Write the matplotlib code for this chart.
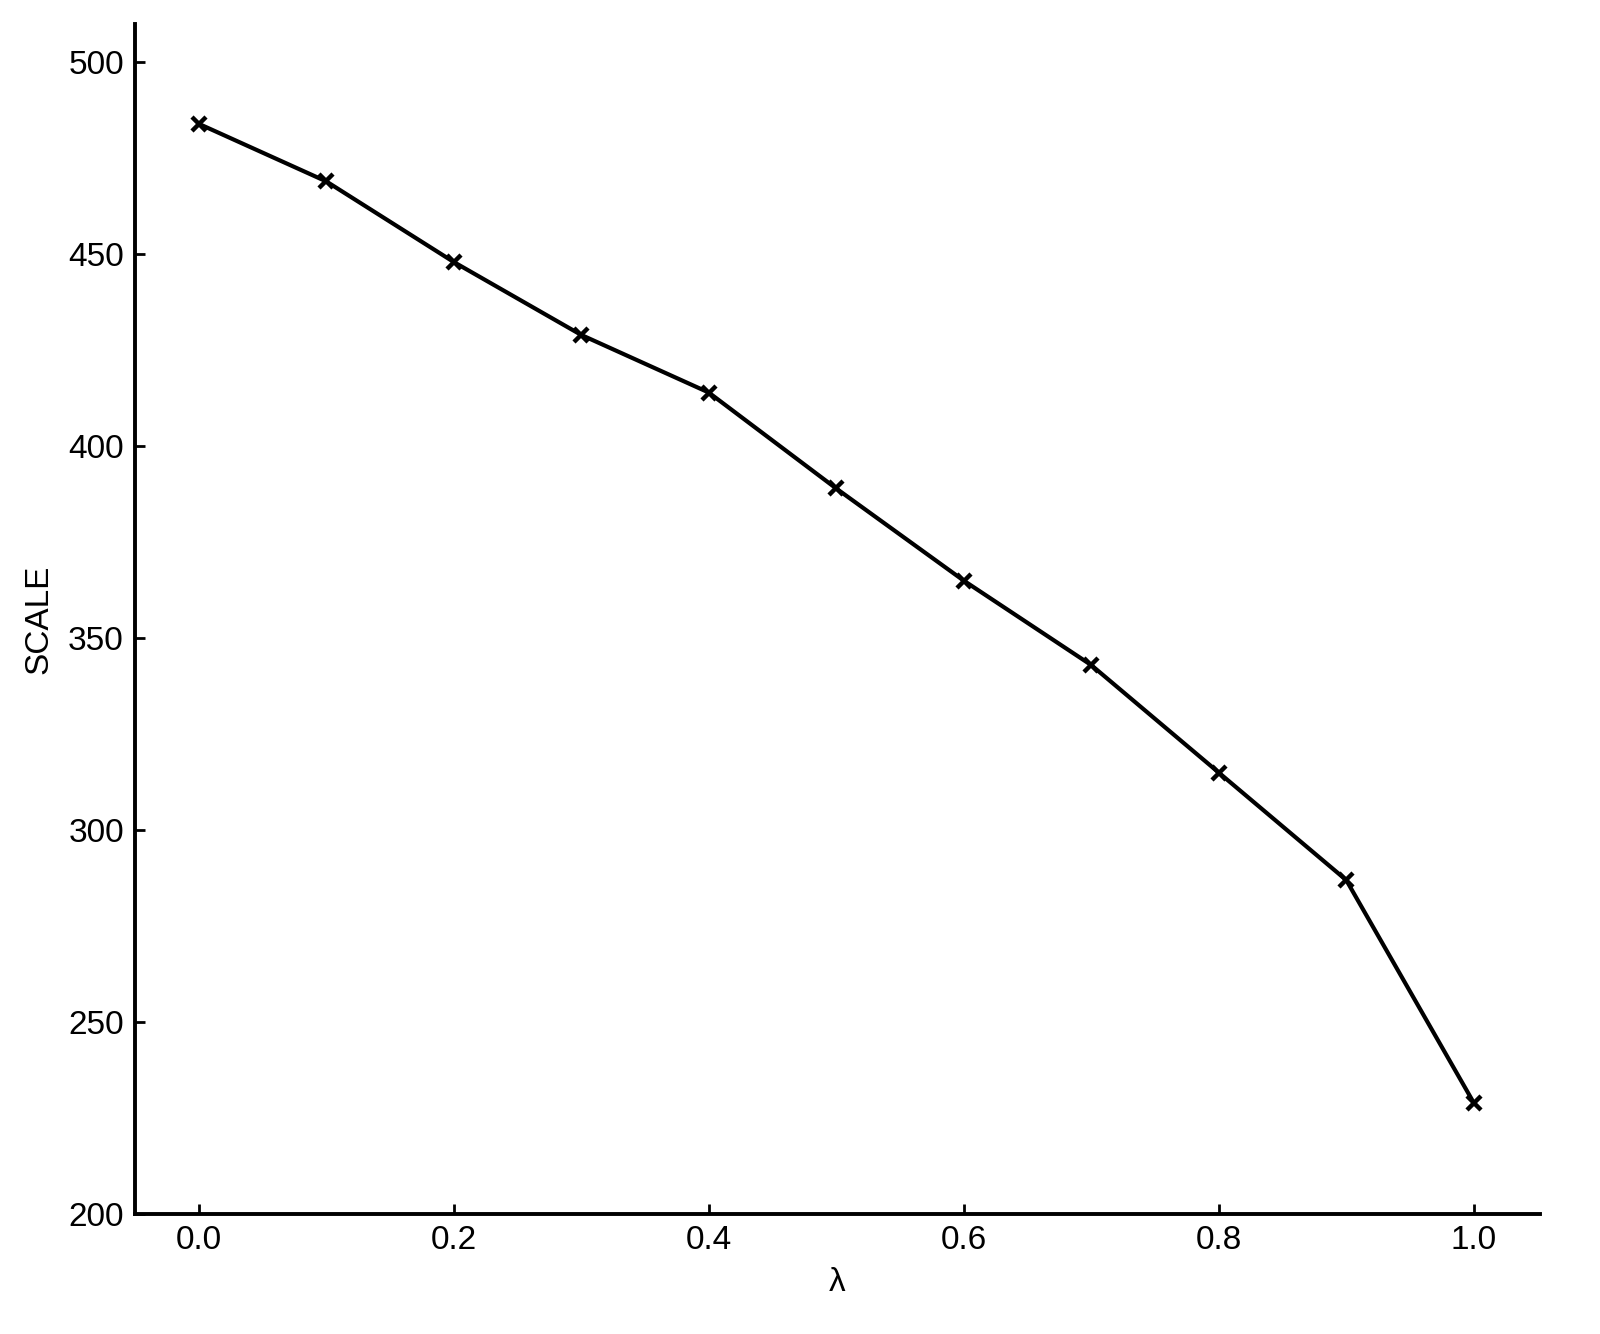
import matplotlib
matplotlib.use("Agg")
import matplotlib.pyplot as plt

plt.rcParams['font.family'] = ['Liberation Sans', 'DejaVu Sans']

lam = [0.0, 0.1, 0.2, 0.3, 0.4, 0.5, 0.6, 0.7, 0.8, 0.9, 1.0]
scale = [484, 469, 448, 429, 414, 389, 365, 343, 315, 287, 229]
xticks = [0.0, 0.2, 0.4, 0.6, 0.8, 1.0]
yticks = [200, 250, 300, 350, 400, 450, 500]

fig = plt.figure(figsize=(8, 6.67), dpi=200)
ax = fig.add_axes([135/1600, 1 - 1214/1334, (1540-135)/1600, (1214-24)/1334])
ax.plot(lam, scale, color='black', linewidth=1.5, marker='x', markersize=5,
        markeredgewidth=1.6)
ax.set_xlim(-0.05, 1.052)
ax.set_ylim(200, 510)
ax.set_xticks(xticks)
ax.set_xticklabels([f"{t:.1f}" for t in xticks])
ax.set_yticks(yticks)
for s in ['top', 'right']:
    ax.spines[s].set_visible(False)
for s in ['left', 'bottom']:
    ax.spines[s].set_linewidth(1.4)
ax.tick_params(direction='in', length=3.6, width=1.0, labelsize=12, pad=4)
ax.set_xlabel('λ', fontsize=12, labelpad=4)
ax.set_ylabel('SCALE', fontsize=12, labelpad=5)
fig.savefig('out.png', dpi=200)
